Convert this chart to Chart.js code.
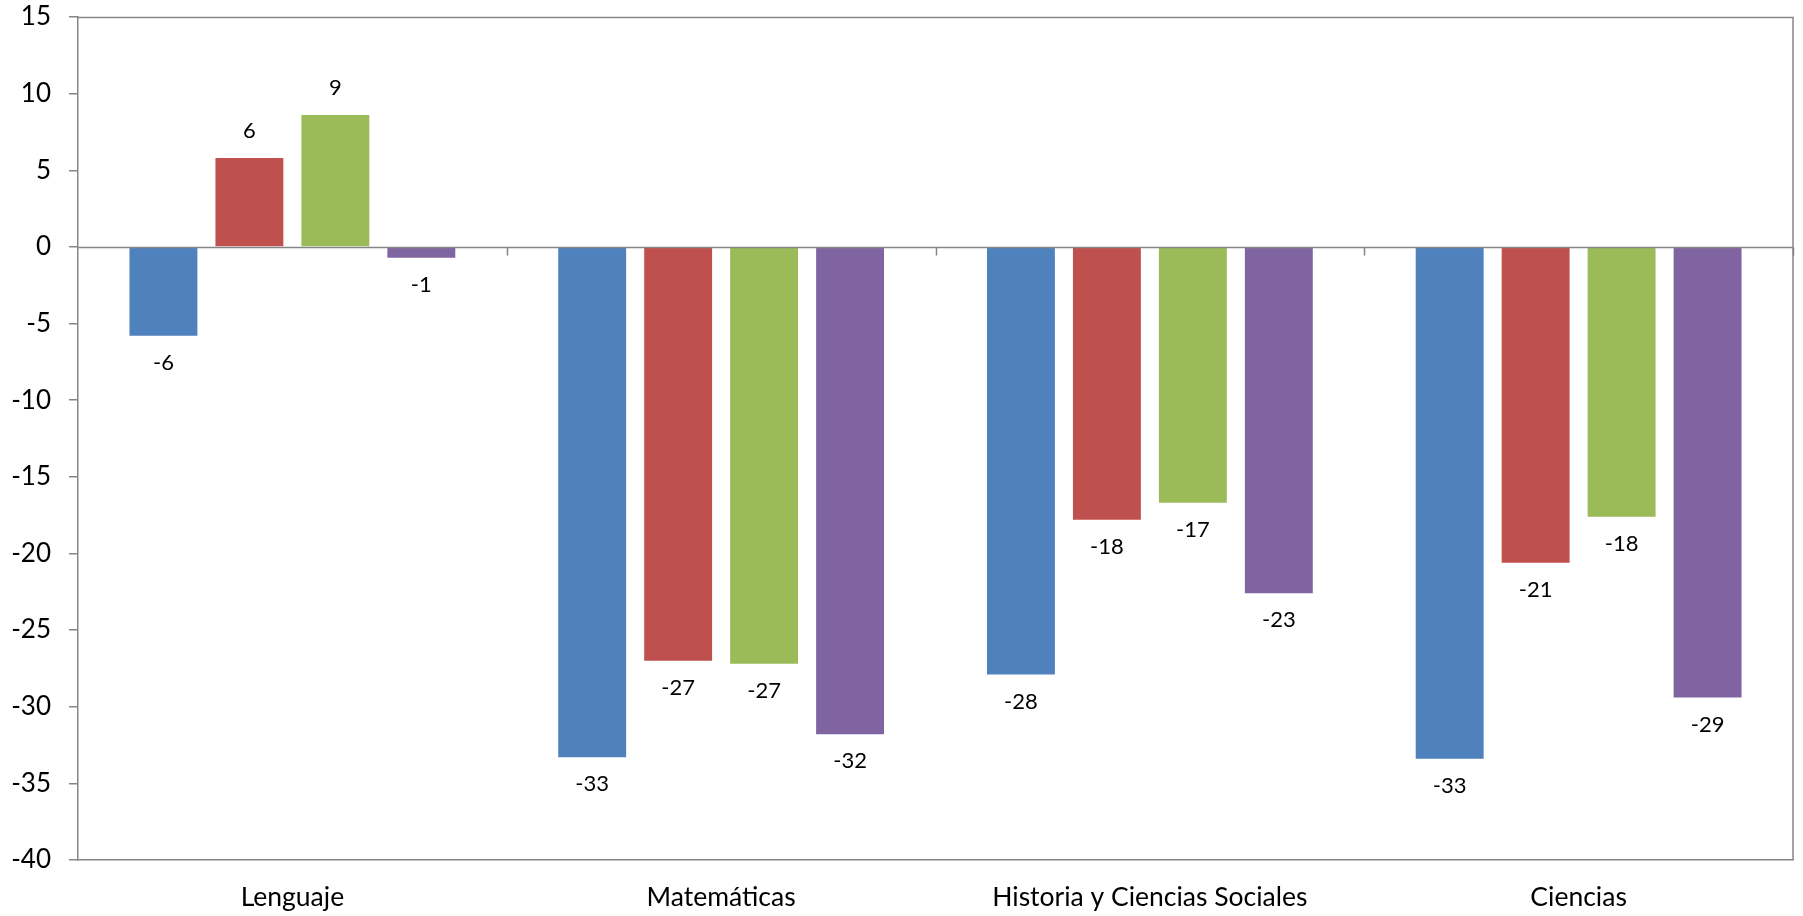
<!DOCTYPE html>
<html>
<head>
<meta charset="utf-8">
<script src="https://cdn.jsdelivr.net/npm/chart.js@4"></script>
<style>
  html, body { margin: 0; padding: 0; background: #ffffff; }
  #wrap { width: 1803px; height: 916px; }
</style>
</head>
<body>
<div id="wrap"><canvas id="chart" width="1803" height="916"></canvas></div>
<script>
// Subjects on the category axis
const categories = ['Lenguaje', 'Matemáticas', 'Historia y Ciencias Sociales', 'Ciencias'];

// Score differences per series
const serie1 = [-5.8, -33.3, -27.9, -33.4];
const serie2 = [5.8, -27.0, -17.8, -20.6];
const serie3 = [8.6, -27.2, -16.7, -17.6];
const serie4 = [-0.7, -31.8, -22.6, -29.4];

// Value axis range
const yMin = -40;
const yMax = 15;
const yStep = 5;

const axisGray = '#868686';
const fontFamily = 'Lato, "Open Sans", sans-serif';

// Zero line with category tick marks, plus the top/right frame of the plot area
const framePlugin = {
  id: 'frame',
  afterDatasetsDraw(chart) {
    const { ctx, chartArea, scales } = chart;
    const y = scales.y;
    const y0 = Math.round(y.getPixelForValue(0)) + 0.5;
    ctx.save();
    ctx.strokeStyle = axisGray;
    ctx.lineWidth = 1.5;
    // top and right border
    ctx.beginPath();
    ctx.moveTo(chartArea.left, Math.round(chartArea.top) + 0.5);
    ctx.lineTo(chartArea.right, Math.round(chartArea.top) + 0.5);
    ctx.lineTo(chartArea.right, chartArea.bottom);
    ctx.stroke();
    // zero line
    ctx.beginPath();
    ctx.moveTo(chartArea.left, y0);
    ctx.lineTo(chartArea.right, y0);
    ctx.stroke();
    // tick marks between categories
    const n = categories.length;
    const w = (chartArea.right - chartArea.left) / n;
    ctx.beginPath();
    for (let i = 1; i <= n; i++) {
      const tx = Math.round(chartArea.left + w * i) + 0.5;
      ctx.moveTo(tx, y0);
      ctx.lineTo(tx, y0 + 8);
    }
    ctx.stroke();
    ctx.restore();
  }
};

// Value labels beyond the end of each bar
const valueLabelPlugin = {
  id: 'valueLabels',
  afterDatasetsDraw(chart) {
    const { ctx } = chart;
    ctx.save();
    ctx.font = '22px ' + fontFamily;
    ctx.fillStyle = '#000000';
    ctx.textAlign = 'center';
    ctx.textBaseline = 'middle';
    chart.data.datasets.forEach((ds, di) => {
      const meta = chart.getDatasetMeta(di);
      meta.data.forEach((bar, i) => {
        const v = ds.data[i];
        const off = 27;
        const ty = v >= 0 ? bar.y - off : bar.y + off;
        ctx.fillText(String(Math.round(v)), bar.x, ty);
      });
    });
    ctx.restore();
  }
};

const colors = ['#4F81BD', '#C0504D', '#9BBB59', '#8064A2'];
const series = [serie1, serie2, serie3, serie4];

new Chart(document.getElementById('chart'), {
  type: 'bar',
  data: {
    labels: categories,
    datasets: series.map((s, i) => ({
      label: 'Serie ' + (i + 1),
      data: s,
      backgroundColor: colors[i],
      borderWidth: 0,
      categoryPercentage: 0.802,
      barPercentage: 0.79
    }))
  },
  options: {
    responsive: false,
    animation: false,
    devicePixelRatio: 1,
    layout: { autoPadding: false, padding: { top: 17, right: 10, left: 0, bottom: 0 } },
    plugins: {
      legend: { display: false },
      tooltip: { enabled: false }
    },
    scales: {
      x: {
        grid: { display: false, drawTicks: false },
        border: { display: true, color: axisGray, width: 1.5 },
        ticks: {
          color: '#000000',
          font: { family: fontFamily, size: 26.5 },
          padding: 22,
          maxRotation: 0,
          autoSkip: false
        },
        afterFit(scale) {
          scale.height = 56;
          scale.paddingLeft = 0;
          scale.paddingRight = 0;
        }
      },
      y: {
        min: yMin,
        max: yMax,
        grid: { display: true, drawOnChartArea: false, drawTicks: true, tickLength: 9, color: axisGray, lineWidth: 1.5 },
        border: { display: true, color: axisGray, width: 1.5 },
        ticks: {
          stepSize: yStep,
          color: '#000000',
          font: { family: fontFamily, size: 26 },
          padding: 18
        },
        afterFit(scale) {
          scale.width = 78;
          scale.paddingTop = 0;
          scale.paddingBottom = 0;
        }
      }
    }
  },
  plugins: [framePlugin, valueLabelPlugin]
});
</script>
</body>
</html>
